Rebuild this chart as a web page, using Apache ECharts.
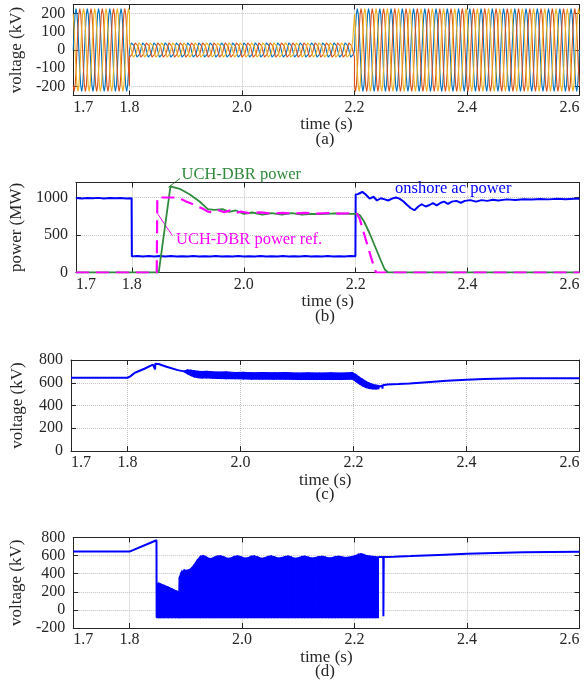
<!DOCTYPE html>
<html><head><meta charset="utf-8">
<script src="https://cdn.jsdelivr.net/npm/echarts@6/dist/echarts.min.js"></script>
<style>html,body{margin:0;padding:0;background:#fff}#c{width:584px;height:683px}</style>
</head><body><div id="c"></div>
<script>
// ================= DATA =================
const xLabelTicks = [1.7, 1.8, 2.0, 2.2, 2.4, 2.6];
const xGridTicks = [1.8, 2.0, 2.2, 2.4];

// (a) three-phase ac voltage: one cycle shape, amplitude per time segment
const aYLabels = [-200, -100, 0, 100, 200];
const aYGrid = [-200, 0, 200];
const aCycleShape = [0, 0.5, 0.87, 1, 0.87, 0.5, 0, -0.5, -0.87, -1, -0.87, -0.5];
const aSegStart = [1.7, 1.8, 2.2];
const aSegEnd = [1.8, 2.2, 2.6];
const aSegAmp = [227, 45, 227];      // kV
const aPeriod = 0.02;                // s (50 Hz)
const aPhaseShift = [0, 8, 4];       // samples of the cycle shape (120 deg apart)

// (b) powers [time, MW]
const bYLabels = [0, 500, 1000];
const onshorePower = [
 [1.700,992],[1.710,988],[1.720,993],[1.730,989],[1.740,995],[1.750,987],[1.760,992],[1.770,989],[1.780,994],[1.790,988],[1.7995,991],
 [1.800,215],[1.810,220],[1.820,213],[1.830,219],[1.840,212],[1.850,220],[1.860,214],[1.870,219],[1.880,212],[1.890,218],
 [1.900,213],[1.910,219],[1.920,212],[1.930,218],[1.940,214],[1.950,219],[1.960,212],[1.970,218],[1.980,213],[1.990,219],
 [2.000,212],[2.010,218],[2.020,214],[2.030,219],[2.040,212],[2.050,218],[2.060,213],[2.070,219],[2.080,212],[2.090,218],
 [2.100,214],[2.110,219],[2.120,212],[2.130,218],[2.140,213],[2.150,219],[2.160,212],[2.170,218],[2.180,214],[2.190,219],[2.1995,216],
 [2.200,1040],[2.204,1045],[2.208,1060],[2.212,1075],[2.218,1040],[2.225,985],[2.232,1010],[2.238,960],[2.245,990],[2.252,975],
 [2.258,960],[2.265,985],[2.272,1000],[2.278,985],[2.285,950],[2.292,900],[2.298,860],[2.305,830],[2.312,880],[2.318,910],
 [2.325,880],[2.332,900],[2.338,925],[2.345,895],[2.352,930],[2.358,945],[2.365,915],[2.372,945],[2.380,955],[2.388,930],
 [2.395,955],[2.405,965],[2.415,945],[2.425,965],[2.435,955],[2.445,970],[2.455,960],[2.470,975],[2.485,968],[2.500,978],
 [2.515,972],[2.530,980],[2.545,975],[2.560,982],[2.575,978],[2.590,984],[2.600,982]
];
const dbrPower = [
 [1.700,0],[1.848,0],[1.869,1147],[1.8855,1116],[1.903,1044],[1.921,947],[1.9357,844],[1.9475,836],[1.962,844],[1.974,809],
 [1.986,827],[2.000,782],[2.015,800],[2.033,773],[2.050,791],[2.068,773],[2.086,791],[2.104,773],[2.121,782],[2.139,778],
 [2.163,787],[2.186,782],[2.203,782],[2.208,760],[2.215,680],[2.225,520],[2.235,340],[2.245,160],[2.252,40],[2.258,0],[2.600,0]
];
const dbrPowerRef = [
 [1.700,0],[1.8445,0],[1.8455,1000],[1.8826,1000],[1.897,947],[1.912,902],[1.927,849],[1.936,812],[1.945,800],[1.955,830],
 [1.965,805],[1.975,825],[1.985,795],[1.995,812],[2.010,790],[2.030,802],[2.050,786],[2.070,796],[2.090,786],[2.110,795],
 [2.130,786],[2.150,793],[2.170,786],[2.190,790],[2.202,785],[2.207,720],[2.2147,524],[2.2235,302],[2.2324,80],[2.2365,0],[2.600,0]
];

// (c) dc voltage [time, kV]; band = [time, lower, upper] of the fast ripple
const cYLabels = [0, 200, 400, 600, 800];
const cYGrid = [200, 400, 600];
const cTraceBefore = [
 [1.700,644],[1.800,644],[1.805,656],[1.813,688],[1.830,723],[1.845,760],[1.8485,771],[1.8488,717],[1.8492,768],
 [1.855,765],[1.869,741],[1.889,711],[1.900,700]
];
const cRippleBand = [
 [1.900,696,703],[1.906,680,712],[1.912,664,710],[1.918,652,706],[1.925,645,700],[1.932,642,698],[1.940,643,700],
 [1.950,640,696],[1.960,638,694],[1.975,636,695],[1.990,636,690],[2.005,634,692],[2.020,632,688],[2.040,632,690],
 [2.060,631,687],[2.080,631,689],[2.100,630,686],[2.120,630,688],[2.140,630,686],[2.160,630,688],[2.180,630,686],
 [2.198,632,690],[2.204,612,672],[2.210,592,650],[2.216,572,630],[2.222,558,612],[2.228,550,597],[2.234,546,585],
 [2.240,546,578],[2.245,548,575]
];
const cTraceAfter = [
 [2.245,565],[2.251,575],[2.2513,548],[2.2517,578],[2.260,584],[2.280,588],[2.299,593],[2.330,605],[2.365,617],
 [2.400,627],[2.431,633],[2.470,637],[2.4975,639],[2.550,640],[2.600,640]
];

// (d) voltage [time, kV]
const dYLabels = [-200, 0, 200, 400, 600, 800];
const dYGrid = [0, 200, 400, 600];
const dTraceBefore = [[1.700,644],[1.800,644],[1.803,652],[1.848,770],[1.8483,-85]];
const dBandLow = -85;
const dBandTop = [
 [1.8485,290],[1.852,296],[1.856,285],[1.862,270],[1.869,252],[1.876,232],[1.882,213],[1.888,200],[1.8886,360],[1.892,415],
 [1.897,440],[1.902,437],[1.908,450],[1.914,490],[1.920,545],[1.926,590],[1.931,600],[1.936,588],[1.941,570],[1.946,568],
 [1.951,582],[1.956,595],[1.962,598],[1.968,585],[1.974,570],[1.980,572],[1.986,590],[1.992,597],[1.998,588],[2.004,572],
 [2.010,575],[2.016,592],[2.022,596],[2.028,585],[2.034,570],[2.040,574],[2.046,590],[2.052,595],[2.058,586],[2.064,572],
 [2.070,576],[2.076,590],[2.082,594],[2.088,584],[2.094,570],[2.100,575],[2.106,589],[2.112,593],[2.118,583],[2.124,572],
 [2.130,576],[2.136,588],[2.142,592],[2.148,584],[2.154,573],[2.160,577],[2.166,589],[2.172,592],[2.178,585],[2.184,578],
 [2.190,582],[2.196,590],[2.202,600],[2.207,615],[2.212,620],[2.217,612],[2.222,600],[2.227,595],[2.232,590],[2.237,588],[2.2425,585]
];
const dTraceAfter = [
 [2.2425,585],[2.2512,585],[2.2514,-70],[2.2518,-70],[2.252,585],[2.270,588],[2.300,595],[2.350,608],[2.400,620],
 [2.450,630],[2.500,636],[2.550,640],[2.600,642]
];

// ================= CHART =================
const FONT = "'Liberation Serif','Times New Roman',serif";
const TXT = '#262626';
const GRIDC = '#c4c4c4';
const BLUE = '#0000ff';

const grids = [
  {left:71, right:4.5, top:4.5, height:91},
  {left:71, right:4.5, top:182.5, height:90},
  {left:71, right:4.5, top:360, height:91},
  {left:71, right:4.5, top:537.5, height:90.5}
];
const yCfg = [
  {min:-250, max:250, labels:aYLabels, ticks:aYGrid, name:'voltage (kV)'},
  {min:0, max:1200, labels:bYLabels, ticks:bYLabels, name:'power (MW)'},
  {min:0, max:800, labels:cYLabels, ticks:cYGrid, name:'voltage (kV)'},
  {min:-200, max:800, labels:dYLabels, ticks:dYGrid, name:'voltage (kV)'}
];

const xAxes = [], yAxes = [];
grids.forEach((g, i) => {
  xAxes.push({
    type:'value', gridIndex:i, min:1.7, max:2.6, position:'bottom',
    axisLine:{show:true, onZero:false, lineStyle:{color:TXT, width:1}},
    axisTick:{show:true, inside:true, length:5, customValues:xGridTicks, lineStyle:{color:TXT}},
    axisLabel:{show:true, customValues:xLabelTicks, margin:4, color:TXT, fontFamily:FONT, fontSize:16,
      alignMinLabel:'left', alignMaxLabel:'right', formatter:v => v.toFixed(1)},
    splitLine:{show:true, lineStyle:{color:GRIDC, type:'dotted', width:1}},
    name:'time (s)', nameLocation:'middle', nameGap:18,
    nameTextStyle:{color:TXT, fontFamily:FONT, fontSize:17}
  });
  const c = yCfg[i];
  yAxes.push({
    type:'value', gridIndex:i, min:c.min, max:c.max, position:'left',
    axisLine:{show:true, onZero:false, lineStyle:{color:TXT, width:1}},
    axisTick:{show:true, inside:true, length:5, customValues:c.ticks, lineStyle:{color:TXT}},
    axisLabel:{show:true, customValues:c.labels, margin:8, color:TXT, fontFamily:FONT, fontSize:16,
      formatter:v => String(v)},
    splitLine:{show:true, lineStyle:{color:GRIDC, type:'dotted', width:1}},
    name:c.name, nameLocation:'middle', nameGap:45,
    nameTextStyle:{color:TXT, fontFamily:FONT, fontSize:17}
  });
});
grids.forEach((g, i) => {
  xAxes.push({
    type:'value', gridIndex:i, min:1.7, max:2.6, position:'top',
    axisLine:{show:true, onZero:false, lineStyle:{color:TXT, width:1}},
    axisTick:{show:true, inside:true, length:5, customValues:xGridTicks, lineStyle:{color:TXT}},
    axisLabel:{show:false}, splitLine:{show:false}
  });
  const c = yCfg[i];
  yAxes.push({
    type:'value', gridIndex:i, min:c.min, max:c.max, position:'right',
    axisLine:{show:true, onZero:false, lineStyle:{color:TXT, width:1}},
    axisTick:{show:true, inside:true, length:5, customValues:c.ticks, lineStyle:{color:TXT}},
    axisLabel:{show:false}, splitLine:{show:false}
  });
});

function buildPhase(shift) {
  const n = aCycleShape.length, step = aPeriod / n, pts = [];
  for (let s = 0; s < aSegStart.length; s++) {
    const k0 = Math.round((aSegStart[s] - aSegStart[0]) / step);
    const k1 = Math.round((aSegEnd[s] - aSegStart[0]) / step);
    for (let k = k0; k <= k1; k++) {
      pts.push([aSegStart[0] + k * step, aSegAmp[s] * aCycleShape[(k + shift) % n]]);
    }
  }
  return pts;
}
const phaseColors = ['#0072BD', '#D95319', '#EDB120'];

function line(data, xi, color, width, extra) {
  return Object.assign({type:'line', xAxisIndex:xi, yAxisIndex:xi, data, symbol:'none',
    lineStyle:{color, width}, itemStyle:{color}, silent:true, animation:false}, extra || {});
}
// filled ripple band: each item is one slice [t0, lo0, hi0, t1, lo1, hi1], drawn via the axes' coordinate system
function band(rows, xi) {
  const data = [];
  for (let i = 0; i < rows.length - 1; i++) data.push(rows[i].concat(rows[i + 1]));
  return {
    type:'custom', xAxisIndex:xi, yAxisIndex:xi, data, silent:true, animation:false,
    encode:{x:[0, 3], y:[1, 2, 4, 5]},
    renderItem(params, api) {
      const p = [api.coord([api.value(0), api.value(1)]), api.coord([api.value(3), api.value(4)]),
                 api.coord([api.value(3), api.value(5)]), api.coord([api.value(0), api.value(2)])];
      return {type:'polygon', shape:{points:p}, style:{fill:BLUE, stroke:BLUE, lineWidth:1.2}};
    },
    clip:true
  };
}

const series = [];
aPhaseShift.forEach((sh, p) => series.push(line(buildPhase(sh), 0, phaseColors[p], 1.1)));
series.push(line(onshorePower, 1, BLUE, 2));
series.push(line(dbrPower, 1, '#2f8a3c', 1.8));
series.push(line(dbrPowerRef, 1, '#ff00ff', 2.2, {lineStyle:{color:'#ff00ff', width:2.2, type:[13, 7]}}));
series.push(band(cRippleBand, 2));
series.push(line(cTraceBefore, 2, BLUE, 2));
series.push(line(cTraceAfter, 2, BLUE, 2));
series.push(band(dBandTop.map(r => [r[0], dBandLow, r[1]]), 3));
series.push(line(dTraceBefore, 3, BLUE, 2));
series.push(line(dTraceAfter, 3, BLUE, 2));

const letters = ['(a)', '(b)', '(c)', '(d)'];
const graphic = letters.map((t, i) => ({
  type:'text', x:325, y:grids[i].top + grids[i].height + 44,
  style:{text:t, fill:TXT, font:'17px ' + FONT, textAlign:'center', textVerticalAlign:'middle'}
}));
graphic.push(
  {type:'line', shape:{x1:180, y1:178.5, x2:168.3, y2:187.3}, style:{stroke:'#2f8a3c', lineWidth:1}},
  {type:'text', x:181.5, y:175, style:{text:'UCH-DBR power', fill:'#2f8a3c', font:'16.5px ' + FONT, textVerticalAlign:'middle'}},
  {type:'line', shape:{x1:157.3, y1:213.3, x2:172.7, y2:236}, style:{stroke:'#ff00ff', lineWidth:1}},
  {type:'text', x:176, y:240, style:{text:'UCH-DBR power ref.', fill:'#ff00ff', font:'16.5px ' + FONT, textVerticalAlign:'middle'}},
  {type:'text', x:395, y:189, style:{text:'onshore ac power', fill:BLUE, font:'16.5px ' + FONT, textVerticalAlign:'middle'}}
);

const chart = echarts.init(document.getElementById('c'), null, {renderer:'canvas'});
chart.setOption({
  animation:false,
  backgroundColor:'#fff',
  textStyle:{fontFamily:FONT},
  grid:grids,
  xAxis:xAxes,
  yAxis:yAxes,
  series,
  graphic
});
</script></body></html>
